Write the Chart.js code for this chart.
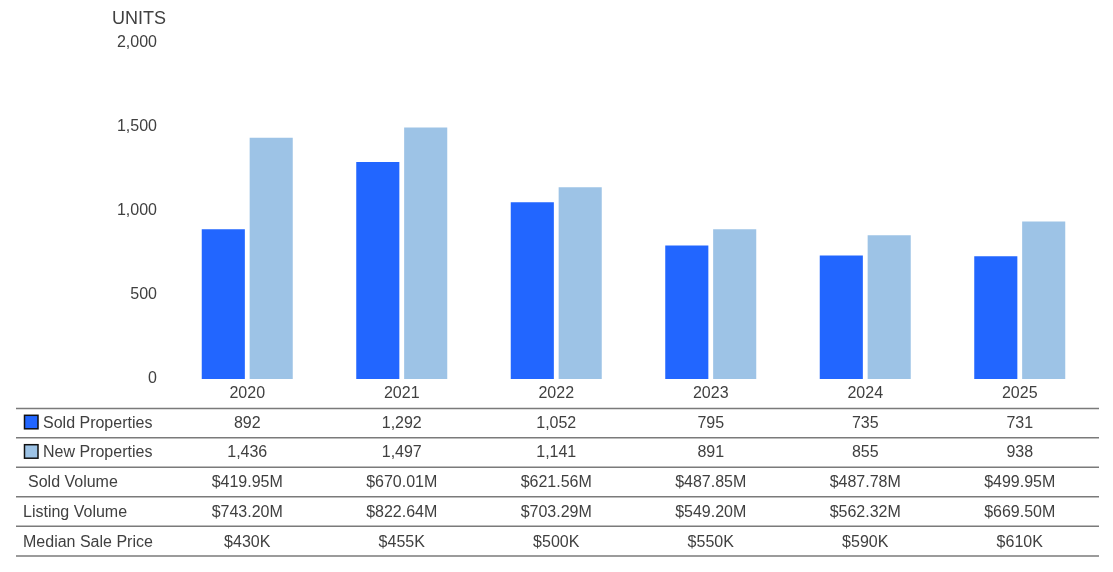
<!DOCTYPE html>
<html>
<head>
<meta charset="utf-8">
<script src="https://cdn.jsdelivr.net/npm/chart.js@4.4.1/dist/chart.umd.min.js"></script>
<style>
html,body{margin:0;padding:0;background:#fff;}
canvas{display:block;}
</style>
</head>
<body>
<canvas id="c" width="1113" height="572"></canvas>
<script>
const years = ['2020','2021','2022','2023','2024','2025'];
const soldProperties = [892, 1292, 1052, 795, 735, 731];
const newProperties = [1436, 1497, 1141, 891, 855, 938];
const soldVolume = ['$419.95M','$670.01M','$621.56M','$487.85M','$487.78M','$499.95M'];
const listingVolume = ['$743.20M','$822.64M','$703.29M','$549.20M','$562.32M','$669.50M'];
const medianSalePrice = ['$430K','$455K','$500K','$550K','$590K','$610K'];
const yTicks = [0, 500, 1000, 1500, 2000];

const FONT = '"Liberation Sans", Arial, sans-serif';
const TEXT = '#404040';
const SOLD = '#2266FF';
const NEW = '#9DC3E6';

const fmt = v => v.toLocaleString('en-US');

const tablePlugin = {
  id: 'tablePlugin',
  afterDraw(chart) {
    const ctx = chart.ctx;
    const x = chart.scales.x;
    ctx.save();
    // UNITS label
    ctx.fillStyle = TEXT;
    ctx.font = '18px ' + FONT;
    ctx.textAlign = 'left';
    ctx.textBaseline = 'middle';
    ctx.fillText('UNITS', 112, 19);

    const lines = [408.5, 437.8, 467.3, 496.8, 526.2, 556];
    ctx.strokeStyle = '#7a7a7a';
    ctx.lineWidth = 1.5;
    lines.forEach(y => {
      ctx.beginPath();
      ctx.moveTo(16, y);
      ctx.lineTo(1099, y);
      ctx.stroke();
    });

    const rows = [
      {label: 'Sold Properties', lx: 43, vals: soldProperties.map(fmt), swatch: SOLD},
      {label: 'New Properties', lx: 43, vals: newProperties.map(fmt), swatch: NEW},
      {label: 'Sold Volume', lx: 28, vals: soldVolume},
      {label: 'Listing Volume', lx: 23, vals: listingVolume},
      {label: 'Median Sale Price', lx: 23, vals: medianSalePrice}
    ];
    const centers = [423.3, 452.7, 482.5, 512.3, 542.3];
    ctx.font = '16px ' + FONT;
    rows.forEach((r, i) => {
      const cy = centers[i];
      if (r.swatch) {
        ctx.fillStyle = r.swatch;
        ctx.fillRect(24.5, cy - 8, 13.5, 13.5);
        ctx.strokeStyle = '#111';
        ctx.lineWidth = 1.5;
        ctx.strokeRect(24.5, cy - 8, 13.5, 13.5);
      }
      ctx.fillStyle = TEXT;
      ctx.textAlign = 'left';
      ctx.fillText(r.label, r.lx, cy);
      ctx.textAlign = 'center';
      r.vals.forEach((v, j) => {
        ctx.fillText(v, x.getPixelForValue(j), cy);
      });
    });
    ctx.restore();
  }
};

new Chart(document.getElementById('c'), {
  type: 'bar',
  data: {
    labels: years,
    datasets: [
      {label: 'Sold Properties', data: soldProperties, backgroundColor: SOLD, borderWidth: 0,
       categoryPercentage: 0.62, barPercentage: 0.9},
      {label: 'New Properties', data: newProperties, backgroundColor: NEW, borderWidth: 0,
       categoryPercentage: 0.62, barPercentage: 0.9}
    ]
  },
  options: {
    responsive: false,
    animation: false,
    layout: {padding: {left: 0, top: 43, right: 16, bottom: 165}},
    plugins: {legend: {display: false}, tooltip: {enabled: false}, title: {display: false}},
    scales: {
      x: {
        grid: {display: false, drawTicks: false},
        border: {display: false},
        ticks: {color: TEXT, font: {family: FONT, size: 16}, padding: 5},
        afterFit(s) { s.height = 28; }
      },
      y: {
        min: 0, max: 2000,
        grid: {display: false, drawTicks: false},
        border: {display: false},
        afterBuildTicks(s) { s.ticks = yTicks.map(v => ({value: v})); },
        ticks: {color: TEXT, font: {family: FONT, size: 16}, padding: 13,
                callback: v => fmt(v)},
        afterFit(s) { s.width = 170; }
      }
    }
  },
  plugins: [tablePlugin]
});
</script>
</body>
</html>
